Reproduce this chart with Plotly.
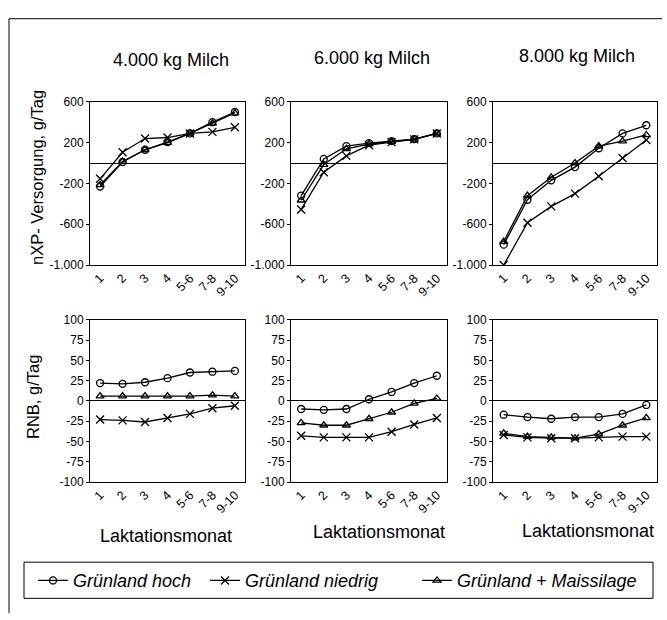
import plotly.graph_objects as go

W, H = 667, 620

months = ["1", "2", "3", "4", "5-6", "7-8", "9-10"]
milk_titles = ["4.000 kg Milch", "6.000 kg Milch", "8.000 kg Milch"]
series_names = ["Grünland hoch", "Grünland niedrig", "Grünland + Maissilage"]

# nXP-Versorgung, g/Tag
nxp_hoch_4000 = [-230, 10, 130, 205, 290, 400, 500]
nxp_niedrig_4000 = [-155, 105, 240, 250, 290, 305, 350]
nxp_mais_4000 = [-215, 15, 130, 200, 290, 390, 490]

nxp_hoch_6000 = [-320, 40, 165, 195, 215, 235, 290]
nxp_niedrig_6000 = [-455, -90, 70, 175, 205, 232, 290]
nxp_mais_6000 = [-365, -15, 140, 185, 210, 232, 290]

nxp_hoch_8000 = [-800, -360, -170, -40, 145, 290, 370]
nxp_niedrig_8000 = [-1000, -585, -425, -300, -130, 50, 225]
nxp_mais_8000 = [-770, -320, -140, 0, 165, 215, 275]

# RNB, g/Tag
rnb_hoch_4000 = [22, 21, 23, 28, 35, 36, 37]
rnb_niedrig_4000 = [-23, -24, -26, -21, -16, -9, -6]
rnb_mais_4000 = [6, 6, 6, 6, 6, 7, 6]

rnb_hoch_6000 = [-10, -11, -10, 2, 11, 22, 31]
rnb_niedrig_6000 = [-43, -45, -45, -45, -38, -29, -21]
rnb_mais_6000 = [-27, -30, -30, -22, -14, -3, 3]

rnb_hoch_8000 = [-17, -20, -22, -20, -20, -16, -5]
rnb_niedrig_8000 = [-42, -45, -46, -46, -45, -44, -44]
rnb_mais_8000 = [-40, -44, -45, -46, -41, -30, -21]

nxp_ticks = [600, 200, -200, -600, -1000]
nxp_ticktext = ["600", "200", "-200", "-600", "-1.000"]
rnb_ticks = [100, 75, 50, 25, 0, -25, -50, -75, -100]
rnb_ticktext = ["100", "75", "50", "25", "0", "-25", "-50", "-75", "-100"]

FONT = "Liberation Sans, Arial, sans-serif"


def px(x):
    return x / W


def py(y):
    return 1 - y / H


col_px = [(90, 245), (291, 447), (493, 657)]
row_px = [(97, 264), (320, 486)]

panels = [
    [(nxp_hoch_4000, nxp_niedrig_4000, nxp_mais_4000),
     (nxp_hoch_6000, nxp_niedrig_6000, nxp_mais_6000),
     (nxp_hoch_8000, nxp_niedrig_8000, nxp_mais_8000)],
    [(rnb_hoch_4000, rnb_niedrig_4000, rnb_mais_4000),
     (rnb_hoch_6000, rnb_niedrig_6000, rnb_mais_6000),
     (rnb_hoch_8000, rnb_niedrig_8000, rnb_mais_8000)],
]

symbols = ["circle-open", "x-thin-open", "triangle-up-open"]
legend_ids = ["legend", "legend2", "legend3"]

fig = go.Figure()
layout = {}
idx = 0
for r in range(2):
    for c in range(3):
        idx += 1
        xa = "x" if idx == 1 else f"x{idx}"
        ya = "y" if idx == 1 else f"y{idx}"
        for s in range(3):
            fig.add_trace(go.Scatter(
                x=months, y=panels[r][c][s], xaxis=xa, yaxis=ya,
                mode="lines+markers", name=f"<i>{series_names[s]}</i>",
                line=dict(color="black", width=1.3),
                marker=dict(symbol=symbols[s], size=7 if s != 1 else 8,
                            color="black", line=dict(color="black", width=1.3)),
                showlegend=(r == 0 and c == 0),
                legend=legend_ids[s],
            ))
        x0, x1 = col_px[c]
        y0, y1 = row_px[r]
        layout["xaxis" if idx == 1 else f"xaxis{idx}"] = dict(
            domain=[px(x0), px(x1)], anchor=ya, type="category",
            range=[-0.45, 6.45], showline=True, linecolor="black", linewidth=1,
            mirror=True, ticks="", tickangle=-45, showgrid=False, zeroline=False,
            tickfont=dict(family=FONT, size=12.5, color="black"),
        )
        if r == 0:
            yd = dict(range=[-1000, 600], tickvals=nxp_ticks, ticktext=nxp_ticktext)
        else:
            yd = dict(range=[-100, 100], tickvals=rnb_ticks, ticktext=rnb_ticktext)
        layout["yaxis" if idx == 1 else f"yaxis{idx}"] = dict(
            domain=[py(y1), py(y0)], anchor=xa, showline=True, linecolor="black",
            linewidth=1, mirror=True, ticks="outside", ticklen=3, tickcolor="black",
            showgrid=False, zeroline=True, zerolinecolor="black", zerolinewidth=1,
            tickfont=dict(family=FONT, size=12, color="black"), **yd,
        )

annotations = []
title_pos = [(171, 54), (372, 52), (577, 50)]
for t, (x, y) in zip(milk_titles, title_pos):
    annotations.append(dict(text=t, x=px(x), y=py(y), xref="paper", yref="paper",
                            showarrow=False, xanchor="center", yanchor="middle",
                            font=dict(family=FONT, size=18, color="black")))
lak_pos = [(166, 541), (379, 537), (588, 536)]
for x, y in lak_pos:
    annotations.append(dict(text="Laktationsmonat", x=px(x), y=py(y), xref="paper",
                            yref="paper", showarrow=False, xanchor="center",
                            yanchor="middle",
                            font=dict(family=FONT, size=18, color="black")))
annotations.append(dict(text="nXP- Versorgung, g/Tag", x=px(37), y=py(175),
                        xref="paper", yref="paper", showarrow=False, textangle=-90,
                        xanchor="center", yanchor="middle",
                        font=dict(family=FONT, size=16.5, color="black")))
annotations.append(dict(text="RNB, g/Tag", x=px(33), y=py(399),
                        xref="paper", yref="paper", showarrow=False, textangle=-90,
                        xanchor="center", yanchor="middle",
                        font=dict(family=FONT, size=16.5, color="black")))

shapes = [
    dict(type="rect", xref="paper", yref="paper", x0=px(24), x1=px(653),
         y0=py(605), y1=py(568), line=dict(color="black", width=1)),
    dict(type="line", xref="paper", yref="paper", x0=px(9), x1=px(662),
         y0=py(12), y1=py(12), line=dict(color="black", width=1)),
    dict(type="line", xref="paper", yref="paper", x0=px(9), x1=px(9),
         y0=py(12), y1=py(620), line=dict(color="black", width=1)),
]

leg_x = [33, 205, 417]
for lid, lx in zip(legend_ids, leg_x):
    layout[lid] = dict(x=px(lx), y=py(587), xanchor="left", yanchor="middle",
                       bgcolor="rgba(0,0,0,0)", borderwidth=0,
                       orientation="h", itemwidth=30,
                       font=dict(family=FONT, size=18, color="black"))

fig.update_layout(
    width=W, height=H, margin=dict(l=0, r=0, t=0, b=0),
    paper_bgcolor="white", plot_bgcolor="white",
    annotations=annotations, shapes=shapes, **layout,
)

fig.write_html("out.html")
